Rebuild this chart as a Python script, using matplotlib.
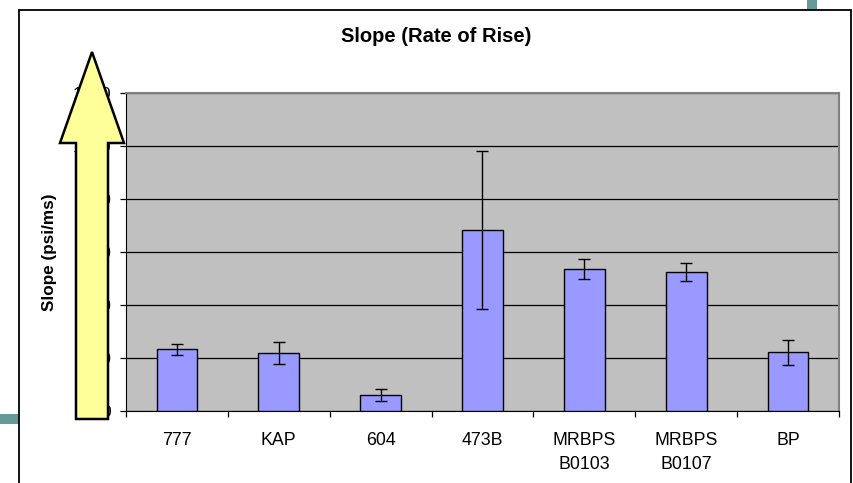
import numpy as np
import matplotlib
matplotlib.use("Agg")
import matplotlib.pyplot as plt
from matplotlib.patches import Polygon, Rectangle

plt.rcParams['font.family'] = ['Liberation Sans', 'DejaVu Sans']

categories = ["777", "KAP", "604", "473B", "MRBPS\nB0103", "MRBPS\nB0107", "BP"]
slope = [233, 218, 60, 683, 535, 525, 222]
slope_err = [20, 42, 24, 297, 37, 35, 47]
yticks = [0, 200, 400, 600, 800, 1000, 1200]

W, H = 854, 483
fig = plt.figure(figsize=(W / 100, H / 100), dpi=100)
fig.patch.set_facecolor("white")


def fx(px):
    return px / W


def fy(py):
    return 1 - py / H


# slide decorations and chart frame (behind the axes)
fig.add_artist(Rectangle((0, fy(424)), fx(19), 10 / H, transform=fig.transFigure,
                         facecolor="#669999", edgecolor="none", zorder=-2))
fig.add_artist(Rectangle((fx(807), fy(10)), 10 / W, 10 / H, transform=fig.transFigure,
                         facecolor="#669999", edgecolor="none", zorder=-2))
fig.add_artist(Rectangle((fx(19), -0.05), fx(851) - fx(19), fy(10) + 0.05,
                         transform=fig.transFigure, facecolor="white",
                         edgecolor="black", linewidth=1.3, zorder=-1))

ax = fig.add_axes([fx(126), fy(411), fx(839) - fx(126), fy(93) - fy(411)])
ax.set_facecolor("#C0C0C0")
x = np.arange(len(categories))
ax.bar(x, slope, width=0.4, color="#9999FF", edgecolor="black", linewidth=1.0, zorder=3)
ax.errorbar(x, slope, yerr=slope_err, fmt="none", ecolor="black", elinewidth=1.0,
            capsize=4, capthick=1.0, zorder=4)

ax.set_xlim(-0.5, len(categories) - 0.5)
ax.set_ylim(0, 1200)
ax.set_yticks(yticks)
ax.set_yticklabels([str(v) for v in yticks], fontsize=12.5)
ax.yaxis.grid(True, color="black", linewidth=0.9)
ax.set_axisbelow(True)
ax.tick_params(axis="y", direction="out", length=4, width=0.9, pad=6.5)

ax.set_xticks(x)
ax.set_xticklabels(categories, fontsize=12.8, va="top", linespacing=1.55)
ax.set_xticks(np.arange(len(categories) + 1) - 0.5, minor=True)
ax.tick_params(axis="x", which="major", length=0, pad=15)
ax.tick_params(axis="x", which="minor", direction="out", length=4, width=0.9)

ax.spines["left"].set_color("black")
ax.spines["bottom"].set_color("black")
ax.spines["top"].set_color("#808080")
ax.spines["right"].set_color("#808080")
ax.spines["top"].set_linewidth(1.5)
ax.spines["right"].set_linewidth(1.5)

fig.text(fx(436), fy(37), "Slope (Rate of Rise)", ha="center", va="center",
         fontsize=14.5, fontweight="bold")
fig.text(fx(50), fy(252), "Slope (psi/ms)", ha="center", va="center",
         rotation=90, fontsize=12.3, fontweight="bold")

# yellow arrow drawn on top of the axis
arrow_pts = [(92, 52), (124, 143), (108, 143), (108, 419), (76, 419), (76, 143), (60, 143)]
fig.add_artist(Polygon([(fx(px), fy(py)) for px, py in arrow_pts], closed=True,
                       transform=fig.transFigure, facecolor="#FFFF99",
                       edgecolor="black", linewidth=1.8, zorder=10))

fig.savefig("out.png", dpi=100)
